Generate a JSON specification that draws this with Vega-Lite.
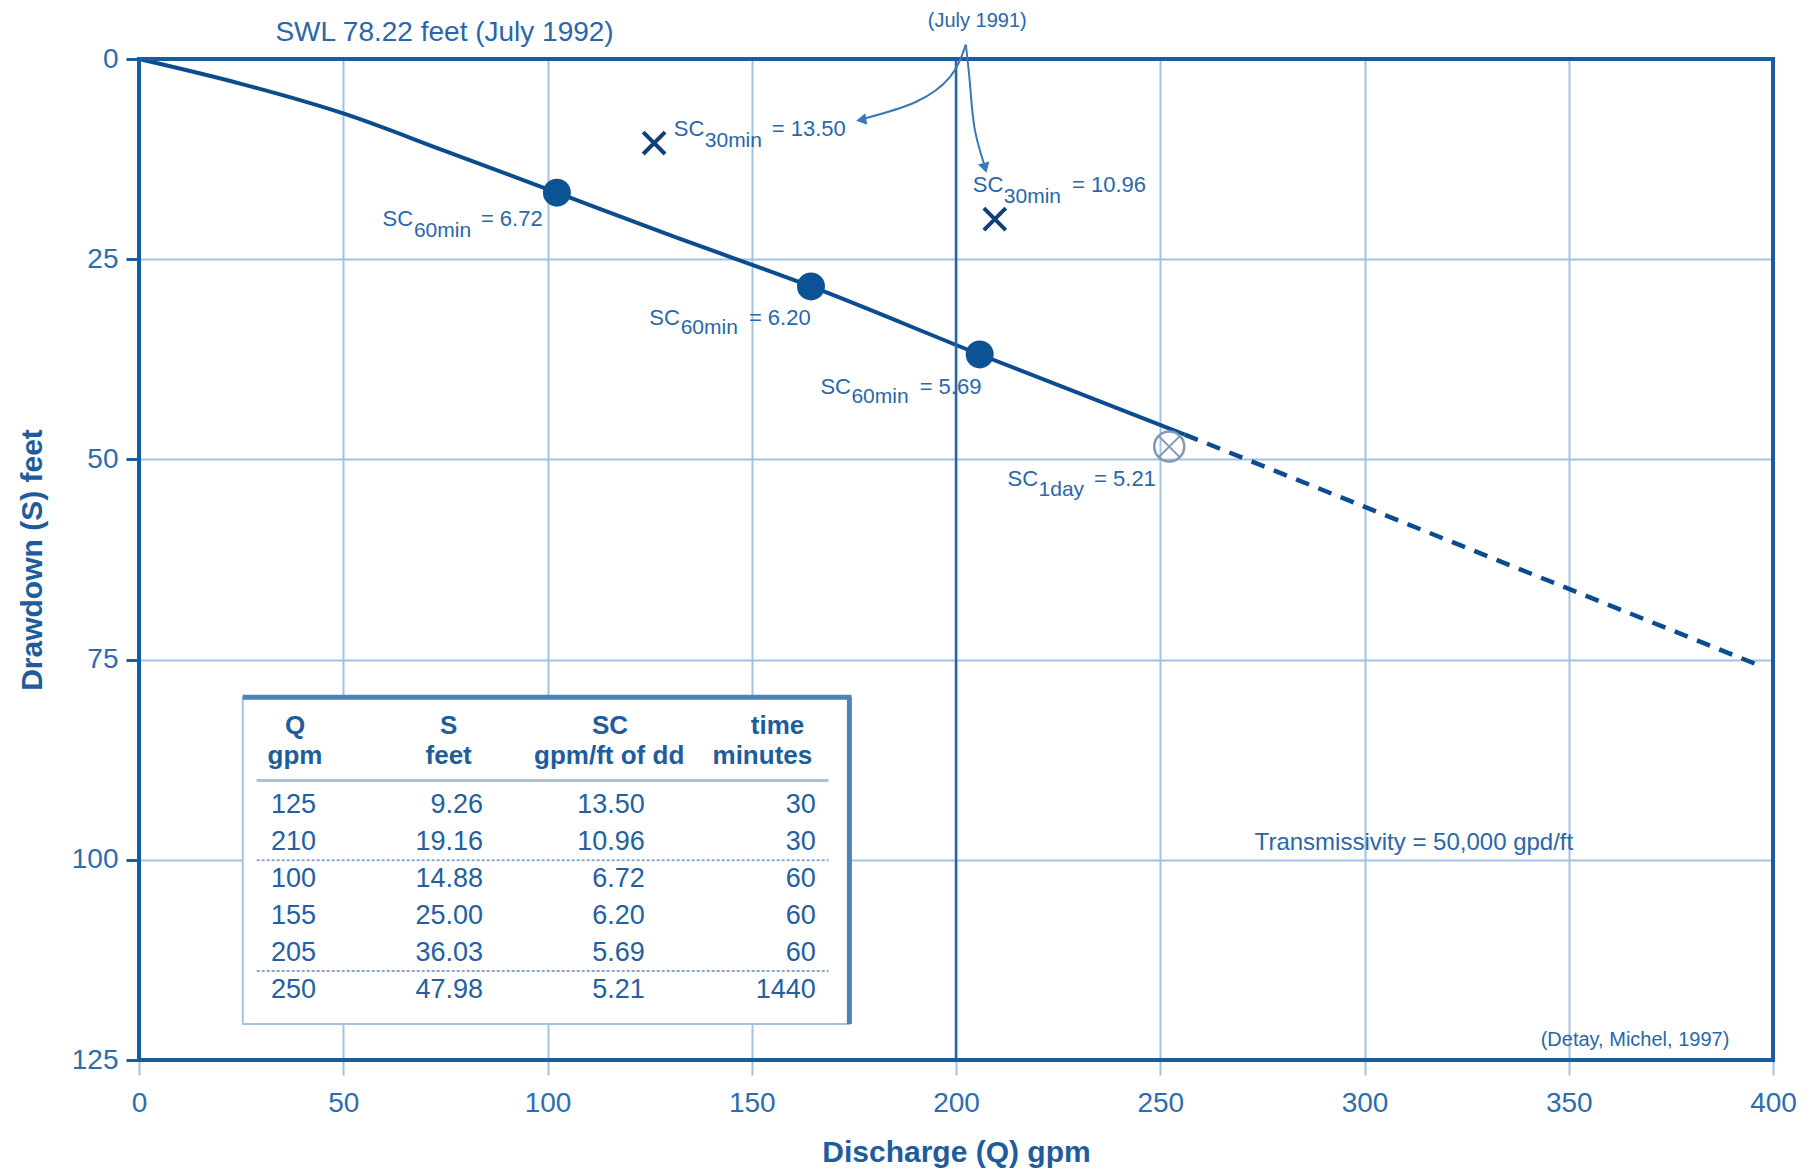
{
  "$schema": "https://vega.github.io/schema/vega-lite/v6.json",
  "width": 1634,
  "height": 1001,
  "autosize": {"type": "none"},
  "padding": {"left": 139, "top": 59, "right": 38, "bottom": 114},
  "background": "white",
  "config": {
    "view": {"stroke": null},
    "font": "Liberation Sans",
    "text": {"font": "Liberation Sans"}
  },
  "datasets": {
    "one": [{}],
    "curve": [
      {"x": 0, "y": 0}, {"x": 25, "y": 3.1}, {"x": 50, "y": 6.8}, {"x": 75, "y": 11.5},
      {"x": 102.3, "y": 16.7}, {"x": 130, "y": 22.0}, {"x": 164.5, "y": 28.4},
      {"x": 205.8, "y": 36.9}, {"x": 256, "y": 46.9}
    ],
    "dash": [{"x": 256, "y": 46.9}, {"x": 397, "y": 75.8}],
    "dots": [{"x": 102.3, "y": 16.7}, {"x": 164.5, "y": 28.4}, {"x": 205.8, "y": 36.9}],
    "xmarks": [{"x": 126.1, "y": 10.5}, {"x": 209.5, "y": 20.0}],
    "daymark": [{"x": 252.2, "y": 48.4}],
    "arrows": [
      {"id": "a", "o": 0, "x": 202.4, "y": -1.8}, {"id": "a", "o": 1, "x": 198.6, "y": 2.2},
      {"id": "a", "o": 2, "x": 190.0, "y": 5.4}, {"id": "a", "o": 3, "x": 177.8, "y": 7.4},
      {"id": "b", "o": 0, "x": 202.4, "y": -1.8}, {"id": "b", "o": 1, "x": 203.4, "y": 3.0},
      {"id": "b", "o": 2, "x": 204.5, "y": 8.5}, {"id": "b", "o": 3, "x": 206.8, "y": 13.0}
    ],
    "headLeft": [{"x": 176.8, "y": 7.6}],
    "headDown": [{"x": 207.1, "y": 13.6}],
    "scMain": [
      {"x": 130.9, "y": 8.8}, {"x": 204.1, "y": 15.7}, {"x": 59.6, "y": 20.0},
      {"x": 124.9, "y": 32.3}, {"x": 166.8, "y": 40.9}, {"x": 212.6, "y": 52.5}
    ],
    "scSub": [
      {"x": 138.5, "y": 10.2, "t": "30min"}, {"x": 211.7, "y": 17.2, "t": "30min"},
      {"x": 67.3, "y": 21.5, "t": "60min"}, {"x": 132.6, "y": 33.6, "t": "60min"},
      {"x": 174.4, "y": 42.2, "t": "60min"}, {"x": 220.2, "y": 53.8, "t": "1day"}
    ],
    "scVal": [
      {"x": 154.9, "y": 8.8, "t": "= 13.50"}, {"x": 228.4, "y": 15.7, "t": "= 10.96"},
      {"x": 83.7, "y": 20.0, "t": "= 6.72"}, {"x": 149.3, "y": 32.3, "t": "= 6.20"},
      {"x": 191.1, "y": 40.9, "t": "= 5.69"}, {"x": 233.8, "y": 52.5, "t": "= 5.21"}
    ],
    "notesLeft": [
      {"x": 33.4, "y": -3.2, "t": "SWL 78.22 feet (July 1992)"}
    ],
    "notesCenter": [
      {"x": 205.2, "y": -4.8, "t": "(July 1991)"}
    ],
    "transm": [{"x": 273.1, "y": 97.9, "t": "Transmissivity = 50,000 gpd/ft"}],
    "credit": [{"x": 389.3, "y": 122.5, "t": "(Detay, Michel, 1997)"}],
    "header": [
      {"x": 38.2, "y": 83.3, "t": "Q"}, {"x": 75.8, "y": 83.3, "t": "S"},
      {"x": 115.3, "y": 83.3, "t": "SC"}, {"x": 156.3, "y": 83.3, "t": "time"},
      {"x": 38.2, "y": 87.1, "t": "gpm"}, {"x": 75.8, "y": 87.1, "t": "feet"},
      {"x": 115.1, "y": 87.1, "t": "gpm/ft of dd"}, {"x": 152.6, "y": 87.1, "t": "minutes"}
    ],
    "table": [
      {"y": 93.1, "Q": 125, "S": 9.26, "SC": 13.50, "time": 30},
      {"y": 97.75, "Q": 210, "S": 19.16, "SC": 10.96, "time": 30},
      {"y": 102.4, "Q": 100, "S": 14.88, "SC": 6.72, "time": 60},
      {"y": 107.0, "Q": 155, "S": 25.00, "SC": 6.20, "time": 60},
      {"y": 111.6, "Q": 205, "S": 36.03, "SC": 5.69, "time": 60},
      {"y": 116.2, "Q": 250, "S": 47.98, "SC": 5.21, "time": 1440}
    ]
  },
  "layer": [
    {
      "data": {"name": "curve"},
      "mark": {"type": "line", "color": "#0b4c8e", "strokeWidth": 4, "interpolate": "monotone"},
      "encoding": {
        "x": {
          "field": "x", "type": "quantitative",
          "scale": {"domain": [0, 400], "nice": false, "zero": false},
          "axis": {
            "title": "Discharge (Q) gpm",
            "values": [0, 50, 100, 150, 200, 250, 300, 350, 400],
            "grid": true, "gridColor": "#a3c1e0", "gridWidth": 2,
            "domain": false,
            "tickColor": "#a3c1e0", "tickWidth": 2, "tickSize": 15,
            "labelFontSize": 28, "labelColor": "#2e6cae", "labelPadding": 14,
            "labelFlush": false, "labelOverlap": false,
            "titleFontSize": 30, "titleFontWeight": "bold", "titleColor": "#1f5c9c",
            "titlePadding": 20
          }
        },
        "y": {
          "field": "y", "type": "quantitative",
          "scale": {"domain": [0, 125], "nice": false, "zero": false, "reverse": true},
          "axis": {
            "title": "Drawdown (S) feet",
            "values": [0, 25, 50, 75, 100, 125],
            "grid": true, "gridColor": "#a3c1e0", "gridWidth": 2,
            "domain": false,
            "tickColor": "#1b5c9e", "tickWidth": 3, "tickSize": 13,
            "labelFontSize": 28, "labelColor": "#2e6cae", "labelPadding": 8,
            "labelFlush": false, "labelOverlap": false,
            "titleFontSize": 30, "titleFontWeight": "bold", "titleColor": "#1f5c9c",
            "titlePadding": 24
          }
        }
      }
    },
    {
      "data": {"name": "one"},
      "mark": {"type": "rule", "color": "#2a66a6", "strokeWidth": 2.5},
      "encoding": {"x": {"datum": 200}}
    },
    {
      "data": {"name": "one"},
      "mark": {"type": "rect", "fill": null, "fillOpacity": 0, "stroke": "#1b5c9e", "strokeWidth": 4},
      "encoding": {
        "x": {"datum": 0}, "x2": {"datum": 400},
        "y": {"datum": 0}, "y2": {"datum": 125}
      }
    },
    {
      "data": {"name": "dash"},
      "mark": {"type": "line", "color": "#0b4c8e", "strokeWidth": 4.5, "strokeDash": [14, 10]},
      "encoding": {
        "x": {"field": "x", "type": "quantitative"},
        "y": {"field": "y", "type": "quantitative"}
      }
    },
    {
      "data": {"name": "one"},
      "mark": {"type": "rect", "fill": "white", "stroke": "#a7c0dc", "strokeWidth": 2},
      "encoding": {
        "x": {"datum": 25.4}, "x2": {"datum": 173.9},
        "y": {"datum": 79.7}, "y2": {"datum": 120.5}
      }
    },
    {
      "data": {"name": "one"},
      "mark": {"type": "rule", "color": "#4d82bd", "strokeWidth": 5},
      "encoding": {"x": {"datum": 25.4}, "x2": {"datum": 174.4}, "y": {"datum": 79.7}}
    },
    {
      "data": {"name": "one"},
      "mark": {"type": "rule", "color": "#4d82bd", "strokeWidth": 5},
      "encoding": {"x": {"datum": 173.9}, "y": {"datum": 79.7}, "y2": {"datum": 120.5}}
    },
    {
      "data": {"name": "one"},
      "mark": {"type": "rule", "color": "#a9c2de", "strokeWidth": 3},
      "encoding": {"x": {"datum": 28.8}, "x2": {"datum": 168.8}, "y": {"datum": 90.1}}
    },
    {
      "data": {"name": "one"},
      "mark": {"type": "rule", "color": "#8aa6c8", "strokeWidth": 2, "strokeDash": [3, 2]},
      "encoding": {"x": {"datum": 28.8}, "x2": {"datum": 168.8}, "y": {"datum": 100.06}}
    },
    {
      "data": {"name": "one"},
      "mark": {"type": "rule", "color": "#8aa6c8", "strokeWidth": 2, "strokeDash": [3, 2]},
      "encoding": {"x": {"datum": 28.8}, "x2": {"datum": 168.8}, "y": {"datum": 113.9}}
    },
    {
      "data": {"name": "header"},
      "mark": {"type": "text", "fontSize": 26, "fontWeight": "bold", "color": "#1f5c9c", "align": "center", "baseline": "middle"},
      "encoding": {
        "x": {"field": "x", "type": "quantitative"},
        "y": {"field": "y", "type": "quantitative"},
        "text": {"field": "t"}
      }
    },
    {
      "data": {"name": "table"},
      "mark": {"type": "text", "fontSize": 27, "color": "#24609f", "align": "center", "baseline": "middle"},
      "encoding": {
        "x": {"datum": 37.8},
        "y": {"field": "y", "type": "quantitative"},
        "text": {"field": "Q", "type": "quantitative", "format": "d"}
      }
    },
    {
      "data": {"name": "table"},
      "mark": {"type": "text", "fontSize": 27, "color": "#24609f", "align": "right", "baseline": "middle"},
      "encoding": {
        "x": {"datum": 84.2},
        "y": {"field": "y", "type": "quantitative"},
        "text": {"field": "S", "type": "quantitative", "format": ".2f"}
      }
    },
    {
      "data": {"name": "table"},
      "mark": {"type": "text", "fontSize": 27, "color": "#24609f", "align": "right", "baseline": "middle"},
      "encoding": {
        "x": {"datum": 123.8},
        "y": {"field": "y", "type": "quantitative"},
        "text": {"field": "SC", "type": "quantitative", "format": ".2f"}
      }
    },
    {
      "data": {"name": "table"},
      "mark": {"type": "text", "fontSize": 27, "color": "#24609f", "align": "right", "baseline": "middle"},
      "encoding": {
        "x": {"datum": 165.7},
        "y": {"field": "y", "type": "quantitative"},
        "text": {"field": "time", "type": "quantitative", "format": "d"}
      }
    },
    {
      "data": {"name": "arrows"},
      "mark": {"type": "line", "color": "#3a78b8", "strokeWidth": 2, "interpolate": "natural"},
      "encoding": {
        "x": {"field": "x", "type": "quantitative"},
        "y": {"field": "y", "type": "quantitative"},
        "detail": {"field": "id"},
        "order": {"field": "o"}
      }
    },
    {
      "data": {"name": "headLeft"},
      "mark": {"type": "point", "shape": "triangle-left", "filled": true, "color": "#3a78b8", "size": 140, "opacity": 1, "angle": -10},
      "encoding": {
        "x": {"field": "x", "type": "quantitative"},
        "y": {"field": "y", "type": "quantitative"}
      }
    },
    {
      "data": {"name": "headDown"},
      "mark": {"type": "point", "shape": "triangle-down", "filled": true, "color": "#3a78b8", "size": 140, "opacity": 1, "angle": -15},
      "encoding": {
        "x": {"field": "x", "type": "quantitative"},
        "y": {"field": "y", "type": "quantitative"}
      }
    },
    {
      "data": {"name": "dots"},
      "mark": {"type": "point", "shape": "circle", "filled": true, "color": "#0b5394", "size": 780, "opacity": 1},
      "encoding": {
        "x": {"field": "x", "type": "quantitative"},
        "y": {"field": "y", "type": "quantitative"}
      }
    },
    {
      "data": {"name": "xmarks"},
      "mark": {"type": "point", "shape": "M-1,-1L1,1M1,-1L-1,1", "filled": false, "color": "#123f78", "strokeWidth": 4, "size": 480, "opacity": 1},
      "encoding": {
        "x": {"field": "x", "type": "quantitative"},
        "y": {"field": "y", "type": "quantitative"}
      }
    },
    {
      "data": {"name": "daymark"},
      "mark": {"type": "point", "shape": "circle", "filled": false, "color": "#8598b3", "strokeWidth": 2.5, "size": 900, "opacity": 1},
      "encoding": {
        "x": {"field": "x", "type": "quantitative"},
        "y": {"field": "y", "type": "quantitative"}
      }
    },
    {
      "data": {"name": "daymark"},
      "mark": {"type": "point", "shape": "M-0.7,-0.7L0.7,0.7M0.7,-0.7L-0.7,0.7", "filled": false, "color": "#8598b3", "strokeWidth": 2, "size": 900, "opacity": 1},
      "encoding": {
        "x": {"field": "x", "type": "quantitative"},
        "y": {"field": "y", "type": "quantitative"}
      }
    },
    {
      "data": {"name": "scMain"},
      "mark": {"type": "text", "text": "SC", "fontSize": 22, "color": "#2a67a8", "align": "left", "baseline": "middle"},
      "encoding": {
        "x": {"field": "x", "type": "quantitative"},
        "y": {"field": "y", "type": "quantitative"}
      }
    },
    {
      "data": {"name": "scSub"},
      "mark": {"type": "text", "fontSize": 21, "color": "#2a67a8", "align": "left", "baseline": "middle"},
      "encoding": {
        "x": {"field": "x", "type": "quantitative"},
        "y": {"field": "y", "type": "quantitative"},
        "text": {"field": "t"}
      }
    },
    {
      "data": {"name": "scVal"},
      "mark": {"type": "text", "fontSize": 22, "color": "#2a67a8", "align": "left", "baseline": "middle"},
      "encoding": {
        "x": {"field": "x", "type": "quantitative"},
        "y": {"field": "y", "type": "quantitative"},
        "text": {"field": "t"}
      }
    },
    {
      "data": {"name": "notesLeft"},
      "mark": {"type": "text", "fontSize": 28, "color": "#2a67a8", "align": "left", "baseline": "middle"},
      "encoding": {
        "x": {"field": "x", "type": "quantitative"},
        "y": {"field": "y", "type": "quantitative"},
        "text": {"field": "t"}
      }
    },
    {
      "data": {"name": "notesCenter"},
      "mark": {"type": "text", "fontSize": 20, "color": "#2a67a8", "align": "center", "baseline": "middle"},
      "encoding": {
        "x": {"field": "x", "type": "quantitative"},
        "y": {"field": "y", "type": "quantitative"},
        "text": {"field": "t"}
      }
    },
    {
      "data": {"name": "transm"},
      "mark": {"type": "text", "fontSize": 24, "color": "#2a67a8", "align": "left", "baseline": "middle"},
      "encoding": {
        "x": {"field": "x", "type": "quantitative"},
        "y": {"field": "y", "type": "quantitative"},
        "text": {"field": "t"}
      }
    },
    {
      "data": {"name": "credit"},
      "mark": {"type": "text", "fontSize": 20, "color": "#2a67a8", "align": "right", "baseline": "middle"},
      "encoding": {
        "x": {"field": "x", "type": "quantitative"},
        "y": {"field": "y", "type": "quantitative"},
        "text": {"field": "t"}
      }
    }
  ]
}
